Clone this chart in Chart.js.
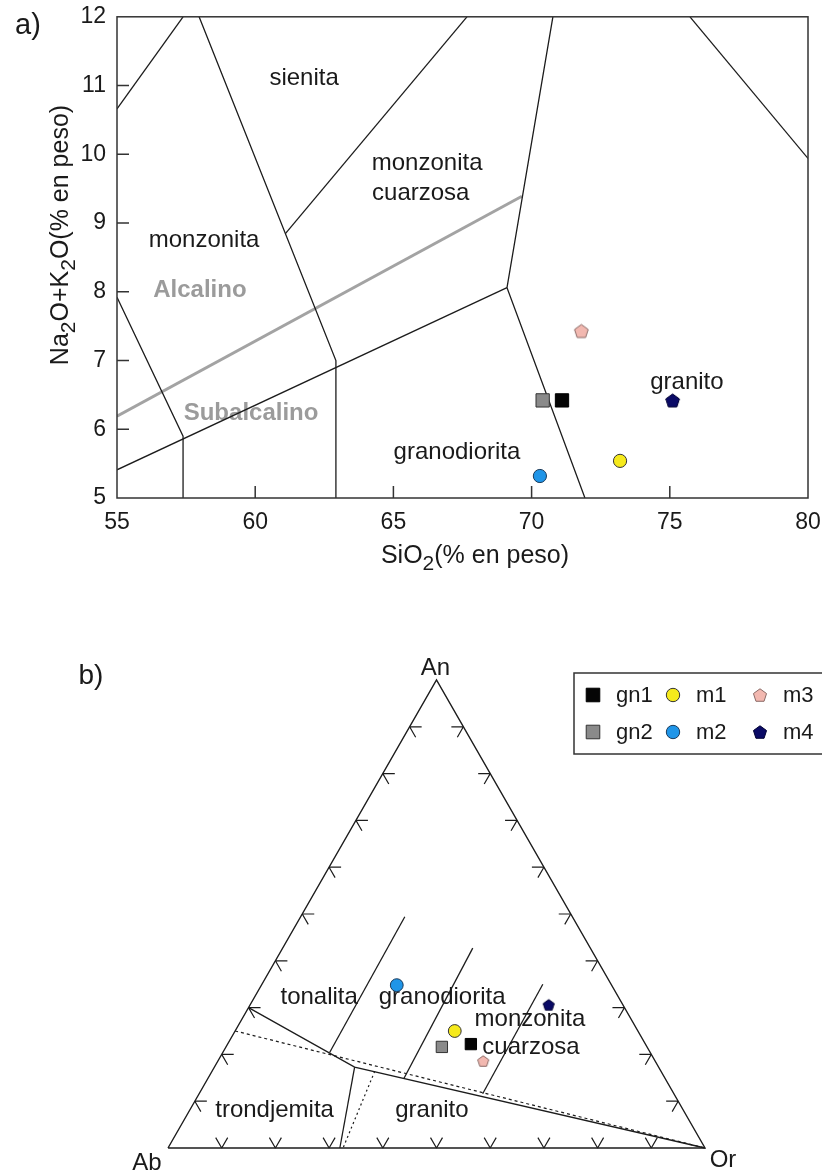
<!DOCTYPE html>
<html>
<head>
<meta charset="utf-8">
<script src="https://cdn.jsdelivr.net/npm/chart.js@4/dist/chart.umd.min.js"></script>
<style>
  html, body { margin: 0; padding: 0; background: #fff; }
  #wrap { position: relative; width: 822px; height: 1175px; }
  #tas { position: absolute; left: 0; top: 0; }
  #ter { position: absolute; left: 0; top: 600px; }
</style>
</head>
<body>
<div id="wrap">
  <canvas id="tas" width="822" height="600"></canvas>
  <canvas id="ter" width="822" height="575"></canvas>
</div>
<script>
const FONT = '"Liberation Sans", Arial, Helvetica, sans-serif';

// samples, same order in both diagrams
const samples = ['gn1', 'gn2', 'm1', 'm2', 'm3', 'm4'];

// a) SiO2 vs Na2O+K2O (% en peso)
const sio2 = [71.1, 70.4, 73.2, 70.3, 71.8, 75.1];
const alkalis = [6.42, 6.42, 5.54, 5.32, 7.43, 6.42];

// b) An-Ab-Or (%), Ab = 100 - An - Or
const anPct = [22.2, 21.6, 25.0, 34.8, 18.6, 30.6];
const orPct = [45.3, 40.2, 40.9, 25.2, 49.4, 55.6];

const xTicks = [55, 60, 65, 70, 75, 80];
const yTicks = [5, 6, 7, 8, 9, 10, 11, 12];

// field boundaries of diagram a), [SiO2, Na2O+K2O]
const tasFieldLines = [
  [[55, 10.66], [57.39, 12]],
  [[57.97, 12], [62.92, 7.0], [62.92, 5]],
  [[61.1, 8.85], [67.66, 12]],
  [[70.77, 12], [69.11, 8.06], [71.93, 5]],
  [[55, 5.41], [69.11, 8.06]],
  [[55, 7.92], [57.39, 5.9], [57.39, 5]],
  [[75.73, 12], [80, 9.94]]
];
const alkalineDivide = [[55, 6.19], [69.65, 9.39]];

// ternary b), points given as [An, Or]
const terOutline = [[0, 0], [0, 100], [100, 0], [0, 0]];
const terFieldLines = [
  [[30, 0], [17.3, 26.1], [0, 100]],
  [[17.3, 26.1], [0, 32]],
  [[20.4, 19.9], [49.4, 19.4]],
  [[14.9, 36.5], [42.7, 35.4]],
  [[11.6, 52.8], [35.0, 52.3]]
];
const terDashed = [[25, 0], [0, 100]];
const terDotted = [[16.4, 30.3], [0, 32.6]];
const terTicks = [10, 20, 30, 40, 50, 60, 70, 80, 90];

// field names
const tasNames = [
  ['sienita', 61.77, 11.11],
  ['monzonita', 66.22, 9.87],
  ['cuarzosa', 65.99, 9.43],
  ['monzonita', 58.15, 8.75],
  ['granodiorita', 67.3, 5.67],
  ['granito', 75.62, 6.68]
];
const tasSeries = [
  ['Alcalino', 58.0, 8.02],
  ['Subalcalino', 59.85, 6.23]
];
const terNames = [
  ['tonalita', 32.1, 12.1],
  ['granodiorita', 32.1, 35.0],
  ['monzonita', 27.4, 53.7],
  ['cuarzosa', 21.4, 56.9],
  ['trondjemita', 8.1, 15.8],
  ['granito', 8.1, 45.1]
];

// marker styles
const sampleFill = ['#050505', '#8a8a8a', '#f6ea1c', '#1f95e8', '#f2b8b0', '#0a0a66'];
const sampleEdge = ['#000000', '#333333', '#333333', '#1a3a5a', '#8a6a66', '#000033'];
const sampleShape = ['rect', 'rect', 'circle', 'circle', 'pentagon', 'pentagon'];

function pentagon(r, fill, edge) {
  const s = Math.ceil(r * 2 + 4);
  const c = document.createElement('canvas');
  c.width = s; c.height = s;
  const g = c.getContext('2d');
  g.beginPath();
  for (let i = 0; i < 5; i++) {
    const a = -Math.PI / 2 + i * 2 * Math.PI / 5;
    const px = s / 2 + r * Math.cos(a), py = s / 2 + r * Math.sin(a) + r * 0.1;
    i ? g.lineTo(px, py) : g.moveTo(px, py);
  }
  g.closePath();
  g.fillStyle = fill; g.fill();
  g.lineWidth = 1; g.strokeStyle = edge; g.stroke();
  return c;
}

// size per shape: [rect, circle, pentagon]
function marker(i, sz) {
  const shape = sampleShape[i];
  if (shape === 'pentagon') return { pointStyle: pentagon(sz[2], sampleFill[i], sampleEdge[i]), pointRadius: sz[2] };
  return { pointStyle: shape, pointRadius: shape === 'rect' ? sz[0] : sz[1] };
}

function lineSet(points, extra) {
  return Object.assign({
    data: points, showLine: true, pointRadius: 0, pointHoverRadius: 0,
    borderColor: '#1c1c1c', borderWidth: 1.3, fill: false, tension: 0, order: 2
  }, extra);
}

function drawRich(ctx, parts, x, y, size) {
  const sub = Math.round(size * 0.85);
  let w = 0;
  parts.forEach(([t, s]) => { ctx.font = (s ? sub : size) + 'px ' + FONT; w += ctx.measureText(t).width; });
  let px = x - w / 2;
  ctx.textAlign = 'left';
  ctx.textBaseline = 'alphabetic';
  parts.forEach(([t, s]) => {
    ctx.font = (s ? sub : size) + 'px ' + FONT;
    ctx.fillText(t, px, y + (s ? size * 0.28 : 0));
    px += ctx.measureText(t).width;
  });
}

// ---------- a) ----------
const tasDecor = {
  id: 'tasDecor',
  beforeDatasetsDraw(chart) {
    const { ctx, scales: { x, y } } = chart;
    ctx.save();
    ctx.textAlign = 'center';
    ctx.textBaseline = 'middle';
    ctx.fillStyle = '#1a1a1a';
    ctx.font = '24px ' + FONT;
    tasNames.forEach(([t, vx, vy]) => ctx.fillText(t, x.getPixelForValue(vx), y.getPixelForValue(vy)));
    ctx.fillStyle = '#9b9b9b';
    ctx.font = 'bold 24px ' + FONT;
    tasSeries.forEach(([t, vx, vy]) => ctx.fillText(t, x.getPixelForValue(vx), y.getPixelForValue(vy)));
    ctx.restore();
  },
  afterDatasetsDraw(chart) {
    const { ctx, chartArea: a, scales: { x, y } } = chart;
    ctx.save();
    ctx.strokeStyle = '#333';
    ctx.lineWidth = 1.5;
    ctx.strokeRect(a.left, a.top, a.right - a.left, a.bottom - a.top);
    ctx.beginPath();
    xTicks.slice(1, -1).forEach(v => {
      const px = x.getPixelForValue(v);
      ctx.moveTo(px, a.bottom); ctx.lineTo(px, a.bottom - 12);
    });
    yTicks.slice(1, -1).forEach(v => {
      const py = y.getPixelForValue(v);
      ctx.moveTo(a.left, py); ctx.lineTo(a.left + 12, py);
    });
    ctx.stroke();

    ctx.fillStyle = '#1a1a1a';
    drawRich(ctx, [['SiO', 0], ['2', 1], ['(% en peso)', 0]], 475, 563, 25);
    ctx.save();
    ctx.translate(68, 235);
    ctx.rotate(-Math.PI / 2);
    drawRich(ctx, [['Na', 0], ['2', 1], ['O+K', 0], ['2', 1], ['O(% en peso)', 0]], 0, 0, 25);
    ctx.restore();

    ctx.font = '29px ' + FONT;
    ctx.textAlign = 'center';
    ctx.textBaseline = 'middle';
    ctx.fillText('a)', 28, 26);
    ctx.restore();
  }
};

const tasSets = tasFieldLines.map(l => lineSet(l.map(([vx, vy]) => ({ x: vx, y: vy }))));
tasSets.push(lineSet(alkalineDivide.map(([vx, vy]) => ({ x: vx, y: vy })), { borderColor: '#a3a3a3', borderWidth: 3 }));
samples.forEach((s, i) => {
  tasSets.push(Object.assign({
    label: s,
    data: [{ x: sio2[i], y: alkalis[i] }],
    backgroundColor: sampleFill[i],
    borderColor: sampleEdge[i],
    borderWidth: 1,
    order: 0
  }, marker(i, [9.4, 6.6, 7.2])));
});

const tickFont = { family: FONT, size: 23 };

new Chart(document.getElementById('tas'), {
  type: 'scatter',
  data: { datasets: tasSets },
  options: {
    responsive: false,
    animation: false,
    events: [],
    layout: { padding: { top: 11, right: 14, left: 0, bottom: 0 } },
    plugins: { legend: { display: false }, tooltip: { enabled: false } },
    scales: {
      x: {
        type: 'linear', min: 55, max: 80,
        afterBuildTicks: s => { s.ticks = xTicks.map(v => ({ value: v })); },
        // fixed plot box: no extra room for the edge labels
        afterFit: s => { s.height = 102; s.paddingLeft = 0; s.paddingRight = 0; },
        grid: { display: false }, border: { display: false },
        ticks: { font: tickFont, color: '#1a1a1a', padding: 3, maxRotation: 0, autoSkip: false }
      },
      y: {
        type: 'linear', min: 5, max: 12,
        afterBuildTicks: s => { s.ticks = yTicks.map(v => ({ value: v })); },
        afterFit: s => { s.width = 117; },
        grid: { display: false }, border: { display: false },
        ticks: { font: tickFont, color: '#1a1a1a', padding: 3, autoSkip: false }
      }
    }
  },
  plugins: [tasDecor]
});

// ---------- b) ----------
const SQ = Math.sqrt(3) / 2;
const toXY = ([an, or]) => ({ x: (or + an / 2) / 100, y: an / 100 * SQ });

const terDecor = {
  id: 'terDecor',
  beforeDatasetsDraw(chart) {
    const { ctx, scales: { x, y } } = chart;
    const px = p => { const q = toXY(p); return [x.getPixelForValue(q.x), y.getPixelForValue(q.y)]; };
    ctx.save();
    ctx.fillStyle = '#1a1a1a';
    ctx.font = '24px ' + FONT;
    ctx.textAlign = 'center';
    ctx.textBaseline = 'middle';
    terNames.forEach(([t, an, or]) => { const [X, Y] = px([an, or]); ctx.fillText(t, X, Y); });

    // corner labels
    let [X, Y] = px([100, 0]); ctx.fillText('An', X - 1, Y - 12);
    [X, Y] = px([0, 0]); ctx.fillText('Ab', X - 21, Y + 15);
    [X, Y] = px([0, 100]); ctx.fillText('Or', X + 18, Y + 12);

    // edge ticks, arms parallel to the two other sides
    ctx.strokeStyle = '#1c1c1c';
    ctx.lineWidth = 1.2;
    ctx.beginPath();
    const arm = (P, dx, dy) => { ctx.moveTo(P[0], P[1]); ctx.lineTo(P[0] + dx, P[1] + dy); };
    terTicks.forEach(k => {
      const L = px([k, 0]);       // Ab-An side
      arm(L, 12, 0); arm(L, 6, 10.4);
      const B = px([0, k]);       // Ab-Or side
      arm(B, -6, -10.4); arm(B, 6, -10.4);
      const R = px([k, 100 - k]); // Or-An side
      arm(R, -12, 0); arm(R, -6, 10.4);
    });
    ctx.stroke();
    ctx.restore();
  },
  afterDatasetsDraw(chart) {
    const { ctx } = chart;
    ctx.save();
    ctx.fillStyle = '#1a1a1a';
    ctx.font = '28px ' + FONT;
    ctx.textAlign = 'center';
    ctx.textBaseline = 'middle';
    ctx.fillText('b)', 91, 76);

    // legend
    ctx.strokeStyle = '#333';
    ctx.lineWidth = 1.5;
    ctx.strokeRect(574, 73, 270, 81);
    const colX = [593, 673, 760];
    const rowY = [95, 132];
    ctx.font = '22px ' + FONT;
    ctx.textAlign = 'left';
    samples.forEach((s, i) => {
      const cx = colX[Math.floor(i / 2)], cy = rowY[i % 2];
      const m = marker(i, [9.6, 6.7, 6.9]);
      ctx.fillStyle = sampleFill[i];
      ctx.strokeStyle = sampleEdge[i];
      ctx.lineWidth = 1;
      Chart.helpers.drawPoint(ctx, { pointStyle: m.pointStyle, radius: m.pointRadius, rotation: 0, borderWidth: 1 }, cx, cy);
      ctx.fillStyle = '#1a1a1a';
      ctx.fillText(s, cx + 23, cy + 1);
    });
    ctx.restore();
  }
};

const terSets = [lineSet(terOutline.map(toXY), { borderWidth: 1.4, clip: false })];
terFieldLines.forEach(l => terSets.push(lineSet(l.map(toXY), { clip: false })));
terSets.push(lineSet(terDashed.map(toXY), { borderDash: [3, 3], borderWidth: 1.2, clip: false }));
terSets.push(lineSet(terDotted.map(toXY), { borderDash: [2, 3], borderWidth: 1.2, clip: false }));
samples.forEach((s, i) => {
  terSets.push(Object.assign({
    label: s,
    data: [toXY([anPct[i], orPct[i]])],
    backgroundColor: sampleFill[i],
    borderColor: sampleEdge[i],
    borderWidth: 1,
    clip: false,
    order: 0
  }, marker(i, [8, 6.4, 5.8])));
});

new Chart(document.getElementById('ter'), {
  type: 'scatter',
  data: { datasets: terSets },
  options: {
    responsive: false,
    animation: false,
    events: [],
    layout: { padding: { top: 80, right: 117, left: 168, bottom: 27 } },
    plugins: { legend: { display: false }, tooltip: { enabled: false } },
    scales: {
      x: { type: 'linear', min: 0, max: 1, display: false },
      y: { type: 'linear', min: 0, max: SQ, display: false }
    }
  },
  plugins: [terDecor]
});
</script>
</body>
</html>
